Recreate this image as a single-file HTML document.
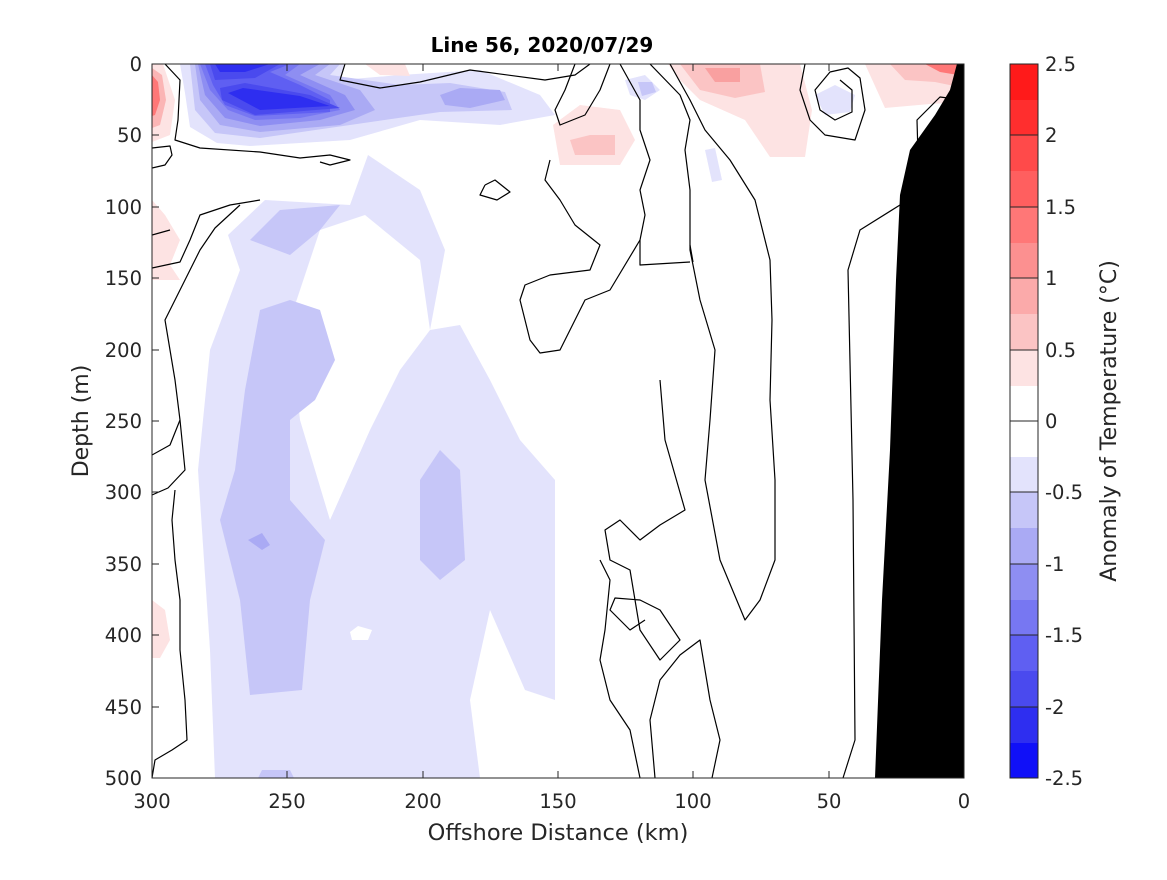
<!DOCTYPE html>
<html><head><style>
body{margin:0;background:#fff;}
svg text{font-family:"DejaVu Sans","Liberation Sans",sans-serif;}
</style></head><body>
<svg width="1167" height="875" xmlns="http://www.w3.org/2000/svg">
<rect width="1167" height="875" fill="#fff"/>
<clipPath id="c"><rect x="152" y="64" width="812" height="714"/></clipPath>
<g clip-path="url(#c)" stroke-linejoin="round">
<polygon fill="#e3e3fc" points="215,778 210,650 198,470 210,350 240,270 228,235 265,200 350,205 368,155 420,190 445,250 430,330 460,325 490,380 520,440 555,480 555,700 525,690 490,610 470,700 480,778"/>
<polygon fill="#fff" points="320,230 365,215 420,260 430,330 400,370 370,430 330,520 318,480 300,420 290,320"/>
<polygon fill="#fff" points="350,632 358,626 372,630 368,640 352,640"/>
<polygon fill="#c6c6f8" points="235,470 245,390 260,310 290,300 320,310 335,360 315,400 290,420 290,500 325,540 310,600 302,690 250,695 240,600 220,520"/>
<polygon fill="#c6c6f8" points="250,240 280,210 340,205 320,230 290,255"/>
<polygon fill="#c6c6f8" points="420,480 440,450 460,470 465,560 440,580 420,560"/>
<polygon fill="#aaaaf4" points="248,540 262,533 270,545 262,550"/>
<polygon fill="#c6c6f8" points="258,778 262,770 290,770 294,778"/>
<polygon fill="#e3e3fc" points="180,64 345,64 340,80 400,75 480,70 540,95 555,115 500,125 420,120 350,140 250,146 217,143 190,127 185,93"/>
<polygon fill="#c6c6f8" points="190,64 340,64 330,75 400,85 450,83 505,92 512,110 440,112 350,125 260,138 215,133 195,110"/>
<polygon fill="#aaaaf4" points="440,95 460,88 500,90 505,100 470,108 445,105"/>
<polygon fill="#aaaaf4" points="195,64 330,64 315,75 360,90 375,110 340,125 260,132 220,125 200,100"/>
<polygon fill="#8e8ef2" points="198,64 320,64 300,75 345,95 355,110 320,120 260,126 225,118 205,95"/>
<polygon fill="#7777f2" points="200,64 300,64 285,75 330,95 340,110 300,118 255,120 228,110 210,90"/>
<polygon fill="#5f5ff2" points="205,64 290,64 270,72 300,85 330,100 330,112 255,116 225,105 213,85"/>
<polygon fill="#4a4aee" points="210,64 280,64 255,78 215,80"/>
<polygon fill="#4a4aee" points="220,88 245,83 310,95 340,108 255,115 222,100"/>
<polygon fill="#2e2ef0" points="228,93 243,88 300,96 330,106 260,110"/>
<polygon fill="#2e2ef0" points="215,64 270,64 245,72 220,72"/>
<polygon fill="#fde3e3" points="152,64 163,64 175,100 170,135 152,142"/>
<polygon fill="#fbb5b5" points="152,68 162,75 166,100 160,125 152,128"/>
<polygon fill="#f77" points="152,75 158,82 160,100 155,115 152,116"/>
<polygon fill="#fde3e3" points="152,200 165,215 180,240 170,265 180,280 152,280"/>
<polygon fill="#fde3e3" points="152,600 165,610 170,640 160,658 152,658"/>
<polygon fill="#fde3e3" points="553,125 580,105 620,110 635,140 620,165 560,165"/>
<polygon fill="#fbc4c4" points="570,140 590,135 615,135 615,155 575,155"/>
<polygon fill="#fde3e3" points="365,64 380,75 410,76 405,64"/>
<polygon fill="#fde3e3" points="668,64 800,64 812,110 805,157 770,157 745,120 700,100 680,80"/>
<polygon fill="#fbc4c4" points="680,64 760,64 765,92 735,98 700,90"/>
<polygon fill="#f9a0a0" points="705,68 740,68 740,82 715,82"/>
<polygon fill="#fde3e3" points="865,64 964,64 964,102 930,104 885,108"/>
<polygon fill="#fbc4c4" points="890,64 964,64 964,88 935,82 905,80"/>
<polygon fill="#f77" points="925,64 964,64 964,76 940,72"/>
<polygon fill="#e3e3fc" points="625,80 645,75 660,90 645,100 630,95"/>
<polygon fill="#c6c6f8" points="638,82 652,82 656,92 642,96"/>
<polygon fill="#e3e3fc" points="815,95 835,85 855,95 850,112 825,115"/>
<polygon fill="#e3e3fc" points="705,150 715,148 722,180 712,182"/>
<polygon fill="#000" points="875,778 882,600 890,450 896,280 900,195 910,150 935,115 950,90 958,60 964,30 964,778"/>
<g fill="none" stroke="#000" stroke-width="1.2">
<polyline points="165,64 180,80 178,120 175,140 200,148 260,152 300,158 330,155 350,160 330,165 320,162"/>
<polyline points="345,64 340,80 380,88 420,82 470,70 545,80 575,75 590,64"/>
<polyline points="152,148 170,146 172,155 165,165 152,168"/>
<polyline points="152,235 170,230"/>
<polyline points="485,185 495,180 510,192 497,200 480,195 485,185"/>
<polyline points="152,268 180,262 190,240 200,215 230,205 260,200"/>
<polyline points="152,455 170,445 180,420 175,380 165,320 185,280 200,250 215,228 240,205"/>
<polyline points="152,495 168,488 185,470 180,420"/>
<polyline points="152,778 155,760 172,750 187,740 185,700 180,650 180,600 175,560 172,520 175,490"/>
<polyline points="575,64 565,90 555,110 560,125 585,115 600,90 610,64"/>
<polyline points="620,64 640,100 640,130 650,160 640,190 645,215 640,240 610,290 585,300 570,330 560,350 540,353 530,340 520,300 525,285 550,275 590,270 600,245 575,225 560,200 545,180 550,160"/>
<polyline points="650,64 680,95 690,120 685,150 690,190 690,250 700,300 715,350 710,420 705,480 720,560 745,620 760,600 775,560 775,480 770,400 772,320 770,260 755,200 730,160 705,130 690,100 670,64"/>
<polyline points="640,240 640,265 690,262"/>
<polyline points="690,245 693,262"/>
<polyline points="660,380 665,440 685,510 660,525 640,540 620,520 605,530 610,560 630,570 635,600 640,630 660,660 680,640 660,610 640,600 615,598 610,610 630,630 645,620"/>
<polyline points="600,560 610,580 605,630 600,660 610,700 630,730 640,778"/>
<polyline points="655,778 650,720 660,680 680,655 700,640 710,700 720,740 712,778"/>
<polyline points="843,778 855,740 853,500 848,270 860,230 900,205 915,192 918,155 917,120 940,97 964,100"/>
<polyline points="805,64 800,90 810,120 825,135 855,140 865,110 860,78 848,68 830,72 815,90 820,110 835,120 852,112 852,90 840,80"/>
</g>
</g>
<rect x="152" y="64" width="812" height="714" fill="none" stroke="#262626" stroke-width="1"/>
<g font-size="19.5" fill="#262626" text-anchor="end">
<text x="142" y="71">0</text><text x="142" y="142">50</text><text x="142" y="214">100</text><text x="142" y="285">150</text><text x="142" y="357">200</text><text x="142" y="428">250</text><text x="142" y="499">300</text><text x="142" y="571">350</text><text x="142" y="642">400</text><text x="142" y="714">450</text><text x="142" y="785">500</text>
</g>
<g stroke="#262626">
<line x1="152" y1="135" x2="159" y2="135"/><line x1="152" y1="207" x2="159" y2="207"/><line x1="152" y1="278" x2="159" y2="278"/><line x1="152" y1="350" x2="159" y2="350"/><line x1="152" y1="421" x2="159" y2="421"/><line x1="152" y1="492" x2="159" y2="492"/><line x1="152" y1="564" x2="159" y2="564"/><line x1="152" y1="635" x2="159" y2="635"/><line x1="152" y1="707" x2="159" y2="707"/>
<line x1="287" y1="778" x2="287" y2="771"/><line x1="423" y1="778" x2="423" y2="771"/><line x1="558" y1="778" x2="558" y2="771"/><line x1="693" y1="778" x2="693" y2="771"/><line x1="829" y1="778" x2="829" y2="771"/>
<line x1="287" y1="64" x2="287" y2="71"/><line x1="423" y1="64" x2="423" y2="71"/><line x1="558" y1="64" x2="558" y2="71"/><line x1="693" y1="64" x2="693" y2="71"/><line x1="829" y1="64" x2="829" y2="71"/>
</g>
<g font-size="19.5" fill="#262626" text-anchor="middle">
<text x="152" y="808">300</text><text x="287" y="808">250</text><text x="423" y="808">200</text><text x="558" y="808">150</text><text x="693" y="808">100</text><text x="829" y="808">50</text><text x="964" y="808">0</text>
<text x="558" y="840" font-size="22.5">Offshore Distance (km)</text>
<text x="542" y="52" font-size="20" font-weight="bold" fill="#000">Line 56, 2020/07/29</text>
<text transform="translate(88,421) rotate(-90)" font-size="22">Depth (m)</text>
<text transform="translate(1116,421) rotate(-90)" font-size="22">Anomaly of Temperature (°C)</text>
</g>
<g>
<rect x="1010" y="64" width="28" height="36" fill="#ff1a1a"/>
<rect x="1010" y="100" width="28" height="36" fill="#ff2e2e"/>
<rect x="1010" y="135" width="28" height="36" fill="#ff4a4a"/>
<rect x="1010" y="171" width="28" height="36" fill="#ff5f5f"/>
<rect x="1010" y="207" width="28" height="36" fill="#ff7777"/>
<rect x="1010" y="243" width="28" height="36" fill="#fc9090"/>
<rect x="1010" y="278" width="28" height="36" fill="#fbaaaa"/>
<rect x="1010" y="314" width="28" height="36" fill="#fbc4c4"/>
<rect x="1010" y="350" width="28" height="36" fill="#fde3e3"/>
<rect x="1010" y="457" width="28" height="36" fill="#e3e3fc"/>
<rect x="1010" y="492" width="28" height="36" fill="#c6c6f8"/>
<rect x="1010" y="528" width="28" height="36" fill="#aaaaf4"/>
<rect x="1010" y="564" width="28" height="36" fill="#8e8ef2"/>
<rect x="1010" y="600" width="28" height="36" fill="#7777f2"/>
<rect x="1010" y="635" width="28" height="36" fill="#5f5ff2"/>
<rect x="1010" y="671" width="28" height="36" fill="#4a4aee"/>
<rect x="1010" y="707" width="28" height="36" fill="#2e2ef0"/>
<rect x="1010" y="743" width="28" height="35" fill="#1010f8"/>
<rect x="1010" y="64" width="28" height="714" fill="none" stroke="#262626"/>
<g stroke="#262626">
<line x1="1010" y1="135" x2="1038" y2="135"/><line x1="1010" y1="207" x2="1038" y2="207"/><line x1="1010" y1="278" x2="1038" y2="278"/><line x1="1010" y1="350" x2="1038" y2="350"/><line x1="1010" y1="421" x2="1038" y2="421"/><line x1="1010" y1="492" x2="1038" y2="492"/><line x1="1010" y1="564" x2="1038" y2="564"/><line x1="1010" y1="635" x2="1038" y2="635"/><line x1="1010" y1="707" x2="1038" y2="707"/>
</g>
<g font-size="19.5" fill="#262626">
<text x="1045" y="71">2.5</text><text x="1045" y="142">2</text><text x="1045" y="214">1.5</text><text x="1045" y="285">1</text><text x="1045" y="357">0.5</text><text x="1045" y="428">0</text><text x="1045" y="499">-0.5</text><text x="1045" y="571">-1</text><text x="1045" y="642">-1.5</text><text x="1045" y="714">-2</text><text x="1045" y="785">-2.5</text>
</g>
</g>
</svg>
</body></html>
